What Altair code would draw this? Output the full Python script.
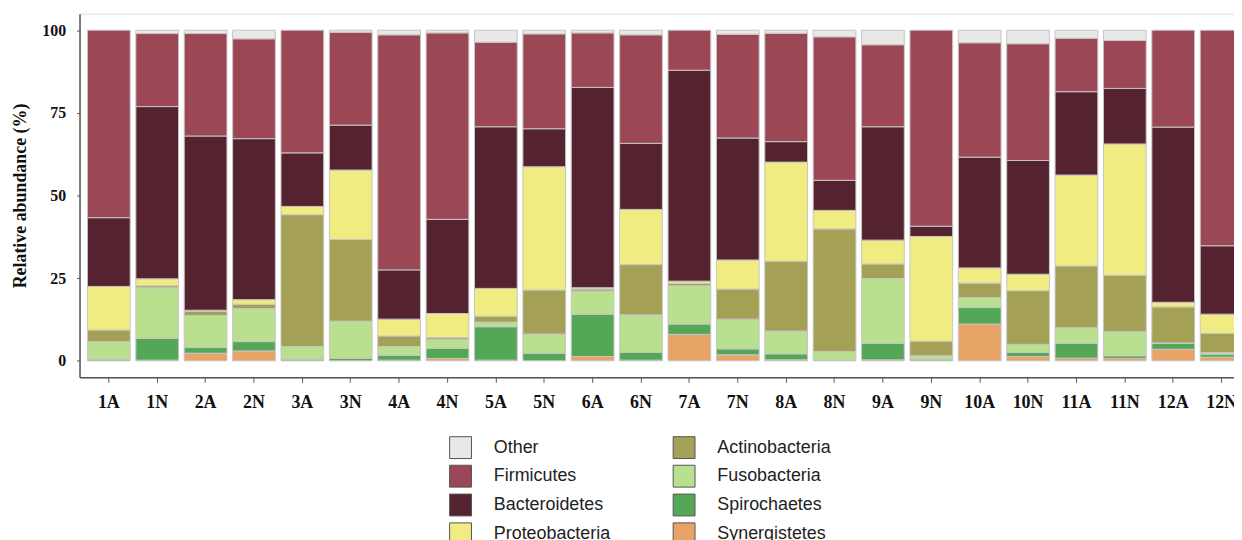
import altair as alt
import pandas as pd

samples = ["1A", "1N", "2A", "2N", "3A", "3N", "4A", "4N", "5A", "5N", "6A", "6N",
           "7A", "7N", "8A", "8N", "9A", "9N", "10A", "10N", "11A", "11N", "12A", "12N"]

# segment sizes (% relative abundance), bottom of stack first
synergistetes = [0.0, 0.2, 2.3, 3.0, 0.0, 0.0, 0.2, 0.7, 0.2, 0.0, 1.3, 0.2,
                 8.0, 1.8, 0.3, 0.0, 0.3, 0.0, 11.1, 1.3, 0.8, 0.7, 3.5, 1.1]
spirochaetes = [0.5, 6.6, 1.7, 2.8, 0.5, 0.7, 1.5, 3.1, 10.1, 2.3, 12.8, 2.4,
                3.1, 1.8, 1.8, 0.2, 5.0, 0.5, 5.0, 1.2, 4.5, 0.8, 1.8, 0.9]
fusobacteria = [5.3, 15.3, 9.7, 10.0, 3.8, 11.3, 2.6, 2.7, 1.4, 5.8, 7.0, 11.3,
                11.6, 9.0, 6.9, 2.6, 19.6, 1.0, 3.0, 2.5, 4.7, 7.3, 0.1, 0.5]
actinobacteria = [3.5, 0.6, 1.3, 1.3, 39.9, 24.7, 3.2, 0.5, 1.8, 13.3, 0.6, 15.2,
                  0.7, 9.1, 21.1, 37.1, 4.4, 4.4, 4.4, 16.2, 18.7, 17.1, 10.9, 5.8]
proteobacteria = [13.2, 2.1, 0.3, 1.4, 2.5, 21.0, 5.1, 7.3, 8.4, 37.3, 0.4, 16.7,
                  0.7, 8.8, 30.0, 5.6, 7.2, 31.7, 4.6, 5.0, 27.5, 39.7, 1.4, 5.8]
bacteroidetes = [20.8, 52.1, 52.7, 48.7, 16.2, 13.6, 14.9, 28.5, 48.9, 11.5, 60.6, 20.0,
                 63.8, 36.9, 6.2, 9.1, 34.3, 3.1, 33.5, 34.4, 25.2, 16.8, 53.0, 20.7]
firmicutes = [56.7, 22.1, 31.0, 30.2, 37.1, 28.1, 71.1, 56.4, 25.6, 28.7, 16.5, 32.8,
              12.1, 31.4, 32.8, 43.4, 24.8, 59.3, 34.6, 35.3, 16.2, 14.5, 29.3, 65.2]
other = [0.0, 1.0, 1.0, 2.6, 0.0, 0.6, 1.4, 0.8, 3.6, 1.1, 0.8, 1.4,
         0.0, 1.2, 0.9, 2.0, 4.4, 0.0, 3.8, 4.1, 2.4, 3.1, 0.0, 0.0]

phyla = ["Synergistetes", "Spirochaetes", "Fusobacteria", "Actinobacteria",
         "Proteobacteria", "Bacteroidetes", "Firmicutes", "Other"]
series = [synergistetes, spirochaetes, fusobacteria, actinobacteria,
          proteobacteria, bacteroidetes, firmicutes, other]

legend_order = ["Other", "Firmicutes", "Bacteroidetes", "Proteobacteria",
                "Actinobacteria", "Fusobacteria", "Spirochaetes", "Synergistetes"]
legend_colors = ["#e8e8e8", "#9c4755", "#55232f", "#f0ec82",
                 "#a4a055", "#b8e08e", "#54a756", "#e8a466"]

rows = []
for i, s in enumerate(samples):
    for k, (p, vals) in enumerate(zip(phyla, series)):
        v = vals[i]
        if v > 0:
            rows.append({"sample": s, "phylum": p, "value": v, "stackorder": k})
df = pd.DataFrame(rows)

serif = "Liberation Serif"
sans = "Liberation Sans"

chart = alt.Chart(df).mark_bar(stroke="#c6c6c6", strokeWidth=1).encode(
    x=alt.X("sample:N", sort=samples,
            scale=alt.Scale(range=[0, 1179], paddingInner=0.117, paddingOuter=0.164),
            axis=alt.Axis(title=None, labelAngle=0, labelFont=serif, labelFontWeight="bold",
                          labelFontSize=18, labelColor="#111", labelPadding=11,
                          tickSize=5, tickColor="#555", domainColor="#555", domainWidth=1.5)),
    y=alt.Y("value:Q", stack="zero",
            scale=alt.Scale(domain=[-5, 105], nice=False, zero=False),
            axis=alt.Axis(values=[0, 25, 50, 75, 100], grid=False,
                          title="Relative abundance (%)", titleFont=serif, titleFontWeight="bold",
                          titleFontSize=18, titleColor="#111", titlePadding=12,
                          labelFont=serif, labelFontWeight="bold", labelFontSize=16,
                          labelColor="#111", labelPadding=11, tickSize=3, tickColor="#555",
                          domainColor="#555", domainWidth=1.5)),
    color=alt.Color("phylum:N",
                    scale=alt.Scale(domain=legend_order, range=legend_colors),
                    legend=alt.Legend(title=None, orient="none", legendX=372, legendY=425,
                                      columns=2, columnPadding=60, rowPadding=2,
                                      symbolType="square", symbolSize=484,
                                      symbolStrokeColor="#555", symbolStrokeWidth=1,
                                      labelFont=sans, labelFontSize=18, labelColor="#222",
                                      labelOffset=22, padding=0)),
    order=alt.Order("stackorder:Q", sort="ascending"),
).properties(
    width=1162, height=366,
    autosize=alt.AutoSizeParams(type="none"),
    padding={"left": 72, "top": 4, "right": 0, "bottom": 162},
).configure_view(stroke=None).configure(background="white")

chart.save("out.html", embed_options={"renderer": "svg", "actions": False})
